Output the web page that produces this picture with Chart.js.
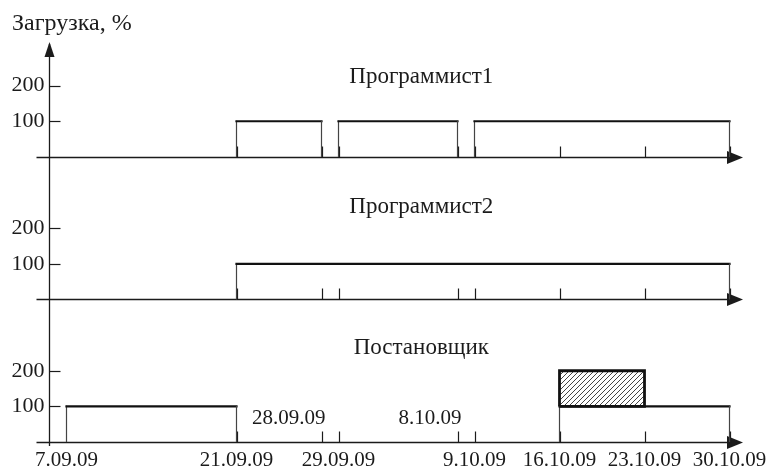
<!DOCTYPE html>
<html>
<head>
<meta charset="utf-8">
<script src="https://cdn.jsdelivr.net/npm/chart.js@4.4.1/dist/chart.umd.min.js"></script>
<style>
  html, body { margin: 0; padding: 0; background: #fff; }
</style>
</head>
<body>
<canvas id="chart" width="783" height="470"></canvas>
<script>
// даты на оси (рабочие дни от 7.09.09)
const dateLabels = ['7.09.09', '21.09.09', '28.09.09', '29.09.09', '8.10.09', '9.10.09', '16.10.09', '23.10.09', '30.10.09'];
const raisedLabels = ['28.09.09', '8.10.09'];
const rowNames = ['Программист1', 'Программист2', 'Постановщик'];
const yTicks = [100, 200];

// [начало, конец, загрузка %]
const prog1 = [['21.09.09', '28.09.09', 100], ['29.09.09', '8.10.09', 100], ['9.10.09', '30.10.09', 100]];
const prog2 = [['21.09.09', '30.10.09', 100]];
const postan = [['7.09.09', '21.09.09', 100], ['16.10.09', '30.10.09', 100]];
// перегрузка: [начало, конец, от, до]
const postanOver = [['16.10.09', '23.10.09', 100, 200]];

const FONT = '"Liberation Serif", "Times New Roman", serif';
const INK = '#1b1b1b';

function toDate(s) {
    const [d, m, y] = s.split('.').map(Number);
    return new Date(2000 + y, m - 1, d);
}
const day0 = toDate(dateLabels[0]);
function workDay(s) {
    const end = toDate(s);
    const d = new Date(day0);
    let n = 0;
    while (d < end) {
        const w = d.getDay();
        if (w !== 0 && w !== 6) n++;
        d.setDate(d.getDate() + 1);
    }
    return n;
}

function boxPoints(list) {
    const pts = [];
    list.forEach(([a, b, v], i) => {
        const xa = workDay(a), xb = workDay(b);
        if (i) pts.push({x: xa, y: null});
        pts.push({x: xa, y: 0}, {x: xa, y: v}, {x: xb, y: v}, {x: xb, y: 0});
    });
    return pts;
}
function overPoints(list) {
    const pts = [];
    list.forEach(([a, b, lo, hi], i) => {
        const xa = workDay(a), xb = workDay(b);
        if (i) pts.push({x: xa, y: null});
        pts.push({x: xa, y: lo}, {x: xa, y: hi}, {x: xb, y: hi}, {x: xb, y: lo}, {x: xa, y: lo});
    });
    return pts;
}

const canvas = document.getElementById('chart');
const ctx = canvas.getContext('2d');

function hatchPattern() {
    const p = document.createElement('canvas');
    p.width = 5; p.height = 5;
    const g = p.getContext('2d');
    g.fillStyle = '#fff';
    g.fillRect(0, 0, 5, 5);
    g.strokeStyle = '#444';
    g.lineWidth = 1;
    g.beginPath();
    g.moveTo(-1, 6); g.lineTo(6, -1);
    g.moveTo(-1, 1); g.lineTo(1, -1);
    g.moveTo(4, 6); g.lineTo(6, 4);
    g.stroke();
    return ctx.createPattern(p, 'repeat');
}

const flat = c => c.p0.parsed.y === c.p1.parsed.y;
function outlineDs(data, yAxisID) {
    return {
        type: 'line',
        data: data,
        yAxisID: yAxisID,
        borderColor: INK,
        pointRadius: 0,
        fill: false,
        tension: 0,
        spanGaps: false,
        borderCapStyle: 'square',
        segment: {
            borderWidth: c => flat(c) ? 2.2 : 1.2,
            borderColor: c => flat(c) ? '#111' : '#444'
        }
    };
}

const yScale = (max, weight) => ({
    type: 'linear',
    position: 'left',
    stack: 'rows',
    stackWeight: max,
    weight: weight,
    min: 0,
    max: max,
    afterBuildTicks: s => { s.ticks = yTicks.map(v => ({value: v})); },
    afterFit: s => { s.width = 38; },
    grid: {display: false, drawTicks: false},
    border: {display: false},
    ticks: {color: INK, font: {family: FONT, size: 22}, padding: 5}
});

// оси, стрелки, засечки, подписи
const axesPlugin = {
    id: 'axesPlugin',
    beforeDatasetsDraw(chart) {
        const {ctx, chartArea: a, scales} = chart;
        const x = scales.x;
        const ax = Math.round(a.left) + 0.5;
        ctx.save();
        ctx.strokeStyle = INK;
        ctx.fillStyle = INK;
        // вертикальная ось
        ctx.lineWidth = 1.3;
        ctx.beginPath();
        ctx.moveTo(ax, a.top - 6);
        ctx.lineTo(ax, a.bottom + 4);
        ctx.stroke();
        ctx.beginPath();
        ctx.moveTo(ax, a.top - 8);
        ctx.lineTo(ax - 5, a.top + 7);
        ctx.lineTo(ax + 5, a.top + 7);
        ctx.closePath();
        ctx.fill();
        ['y1', 'y2', 'y3'].forEach(id => {
            const s = scales[id];
            const by = Math.round(s.getPixelForValue(0)) + 0.5;
            ctx.lineWidth = 1.3;
            ctx.beginPath();
            ctx.moveTo(ax - 13, by);
            ctx.lineTo(a.right - 8, by);
            ctx.stroke();
            ctx.beginPath();
            ctx.moveTo(a.right + 5, by);
            ctx.lineTo(a.right - 11, by - 6.5);
            ctx.lineTo(a.right - 11, by + 6.5);
            ctx.closePath();
            ctx.fill();
            // засечки по Y внутрь
            ctx.lineWidth = 1.2;
            yTicks.forEach(v => {
                const ty = Math.round(s.getPixelForValue(v)) + 0.5;
                ctx.beginPath();
                ctx.moveTo(ax, ty);
                ctx.lineTo(ax + 11, ty);
                ctx.stroke();
            });
            // засечки по X вверх
            dateLabels.slice(1).forEach(l => {
                const tx = Math.round(x.getPixelForValue(workDay(l))) + 0.5;
                ctx.beginPath();
                ctx.moveTo(tx, by);
                ctx.lineTo(tx, by - 11);
                ctx.stroke();
            });
        });
        ctx.restore();
    },
    afterDraw(chart, args, opts) {
        const {ctx, chartArea: a, scales} = chart;
        ctx.save();
        ctx.fillStyle = INK;
        ctx.font = '24px ' + FONT;
        ctx.textBaseline = 'alphabetic';
        ctx.textAlign = 'left';
        ctx.fillText('Загрузка, %', 12, 30);
        ctx.font = '23px ' + FONT;
        ctx.textAlign = 'center';
        ctx.textBaseline = 'middle';
        const cx = a.left + (a.right - a.left) * opts.titleCenter;
        ['y1', 'y2', 'y3'].forEach((id, i) => {
            ctx.fillText(rowNames[i], cx, scales[id].getPixelForValue(opts.titleAt[i]));
        });
        ctx.font = '21px ' + FONT;
        ctx.textAlign = 'right';
        ctx.textBaseline = 'alphabetic';
        raisedLabels.forEach(l => {
            ctx.fillText(l, scales.x.getPixelForValue(workDay(l)) + 4, scales.y3.getPixelForValue(0) - 18);
        });
        ctx.restore();
    }
};

const pattern = hatchPattern();

new Chart(canvas, {
    data: {
        datasets: [
            {
                type: 'line',
                data: overPoints(postanOver),
                yAxisID: 'y3',
                borderColor: '#111',
                borderWidth: 2.8,
                backgroundColor: pattern,
                fill: 'shape',
                pointRadius: 0,
                tension: 0
            },
            outlineDs(boxPoints(prog1), 'y1'),
            outlineDs(boxPoints(prog2), 'y2'),
            outlineDs(boxPoints(postan), 'y3')
        ]
    },
    options: {
        responsive: false,
        animation: false,
        events: [],
        layout: {padding: {left: 11.5, top: 50, right: 45, bottom: 0}},
        scales: {
            x: {
                type: 'linear',
                min: -1,
                max: 39.5,
                afterBuildTicks: s => { s.ticks = dateLabels.map(l => ({value: workDay(l)})); },
                afterFit: s => { s.height = 28; },
                grid: {display: false, drawTicks: false},
                border: {display: false},
                ticks: {
                    autoSkip: false,
                    maxRotation: 0,
                    padding: 6,
                    color: INK,
                    font: {family: FONT, size: 21},
                    callback: (v, i) => raisedLabels.includes(dateLabels[i]) ? '' : dateLabels[i]
                }
            },
            y1: yScale(300, 3),
            y2: yScale(400, 2),
            y3: yScale(400, 1)
        },
        plugins: {
            legend: {display: false},
            tooltip: {enabled: false},
            axesPlugin: {titleCenter: 0.54, titleAt: [225, 260, 265]}
        }
    },
    plugins: [axesPlugin]
});
</script>
</body>
</html>
